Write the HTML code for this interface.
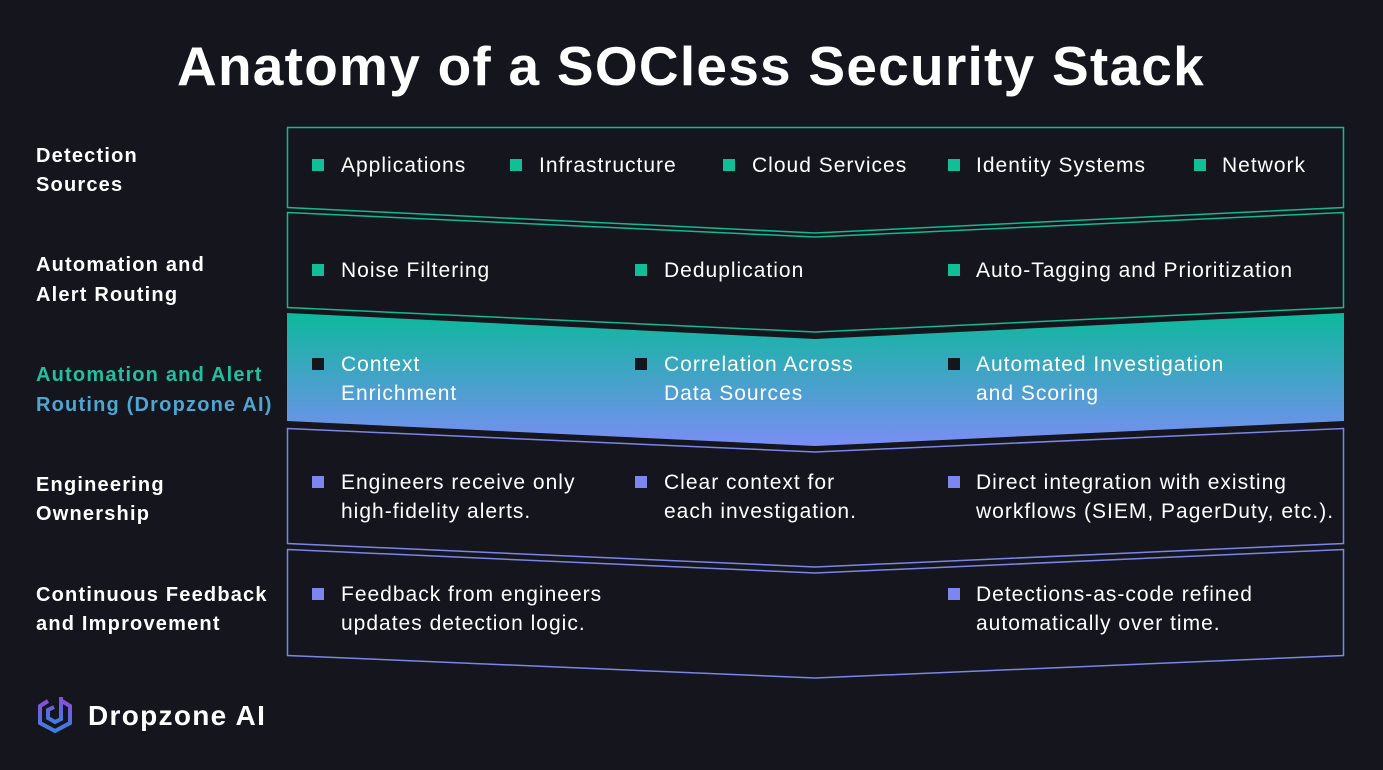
<!DOCTYPE html>
<html><head><meta charset="utf-8"><style>
body{margin:0;width:1383px;height:770px;background:#14151d;overflow:hidden;font-family:"Liberation Sans",sans-serif}
svg{position:absolute;left:0;top:0}
text{font-family:"Liberation Sans",sans-serif}
.t{fill:#fff;font-size:21px;letter-spacing:1px}
.l{fill:#fff;font-size:20px;font-weight:bold;letter-spacing:1.2px}
</style></head><body>
<svg width="1383" height="770" viewBox="0 0 1383 770">
<defs>
<linearGradient id="g" x1="0" y1="0" x2="0" y2="1">
<stop offset="0" stop-color="#0cb99b"/><stop offset="1" stop-color="#7b8df5"/></linearGradient>
<linearGradient id="logo" x1="0" y1="0" x2="0" y2="1">
<stop offset="0" stop-color="#8a4fd6"/><stop offset="1" stop-color="#3c7fe0"/></linearGradient>
</defs>
<text x="691" y="85" text-anchor="middle" fill="#fff" font-size="55" font-weight="bold" letter-spacing="1.25">Anatomy of a SOCless Security Stack</text>

<path d="M287.5 127.5H1343.5V207.5L815 233L287.5 207.5Z" fill="none" stroke="#13b991" stroke-width="1.5"/>
<path d="M287.5 212.5L815 237L1343.5 212.5V307.5L815 332L287.5 307.5Z" fill="none" stroke="#13b991" stroke-width="1.5"/>
<path d="M287 313L815 339L1344 313V421L815 446L287 421Z" fill="url(#g)"/>
<path d="M287.5 428.5L815 452L1343.5 428.5V543.5L815 567L287.5 543.5Z" fill="none" stroke="#7b85e8" stroke-width="1.5"/>
<path d="M287.5 549.5L815 573L1343.5 549.5V655.5L815 678L287.5 655.5Z" fill="none" stroke="#7b85e8" stroke-width="1.5"/>

<text class="l" x="36" y="162">Detection</text><text class="l" x="36" y="191">Sources</text>
<text class="l" x="36" y="271">Automation and</text><text class="l" x="36" y="301">Alert Routing</text>
<text class="l" x="36" y="381" style="fill:#22bfa0">Automation and Alert</text>
<text class="l" x="36" y="411" style="fill:#4ea6d2">Routing (Dropzone AI)</text>
<text class="l" x="36" y="491">Engineering</text><text class="l" x="36" y="520">Ownership</text>
<text class="l" x="36" y="601">Continuous Feedback</text><text class="l" x="36" y="630">and Improvement</text>

<g fill="#10bf96">
<rect x="312" y="159" width="12" height="12"/><rect x="510" y="159" width="12" height="12"/><rect x="723" y="159" width="12" height="12"/><rect x="948" y="159" width="12" height="12"/><rect x="1194" y="159" width="12" height="12"/>
<rect x="312" y="264" width="12" height="12"/><rect x="635" y="264" width="12" height="12"/><rect x="948" y="264" width="12" height="12"/>
</g>
<text class="t" x="341" y="172">Applications</text><text class="t" x="539" y="172">Infrastructure</text><text class="t" x="752" y="172">Cloud Services</text><text class="t" x="976" y="172">Identity Systems</text><text class="t" x="1222" y="172">Network</text>
<text class="t" x="341" y="277">Noise Filtering</text><text class="t" x="664" y="277">Deduplication</text><text class="t" x="976" y="277">Auto-Tagging and Prioritization</text>

<g fill="#14151d"><rect x="312" y="358" width="12" height="12"/><rect x="635" y="358" width="12" height="12"/><rect x="948" y="358" width="12" height="12"/></g>
<text class="t" x="341" y="371">Context</text><text class="t" x="341" y="400">Enrichment</text>
<text class="t" x="664" y="371">Correlation Across</text><text class="t" x="664" y="400">Data Sources</text>
<text class="t" x="976" y="371">Automated Investigation</text><text class="t" x="976" y="400">and Scoring</text>

<g fill="#7d86ee"><rect x="312" y="476" width="12" height="12"/><rect x="635" y="476" width="12" height="12"/><rect x="948" y="476" width="12" height="12"/><rect x="312" y="588" width="12" height="12"/><rect x="948" y="588" width="12" height="12"/></g>
<text class="t" x="341" y="489">Engineers receive only</text><text class="t" x="341" y="518">high-fidelity alerts.</text>
<text class="t" x="664" y="489">Clear context for</text><text class="t" x="664" y="518">each investigation.</text>
<text class="t" x="976" y="489">Direct integration with existing</text><text class="t" x="976" y="518">workflows (SIEM, PagerDuty, etc.).</text>
<text class="t" x="341" y="601">Feedback from engineers</text><text class="t" x="341" y="630">updates detection logic.</text>
<text class="t" x="976" y="601">Detections-as-code refined</text><text class="t" x="976" y="630">automatically over time.</text>

<g fill="none" stroke="url(#logo)" stroke-width="4">
<path d="M48 701L40 706V723L55 731L70 723V706L62 701"/>
<path d="M61 697V719L55 722L48 718V710L54 707"/>
</g>
<text x="88" y="725" fill="#fff" font-size="28" font-weight="bold" letter-spacing="1.3">Dropzone AI</text>
</svg>
</body></html>
